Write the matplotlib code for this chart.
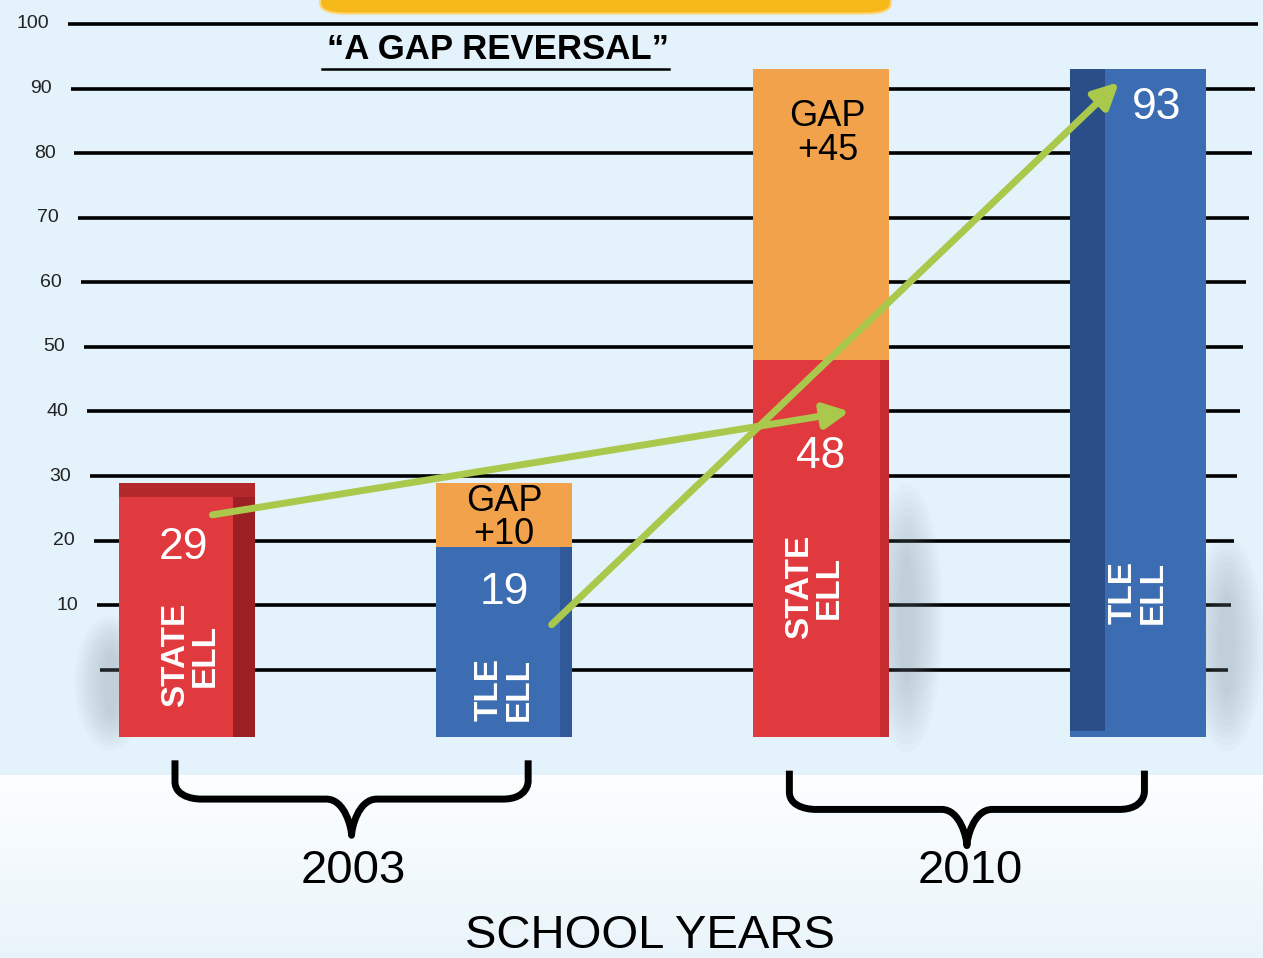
import matplotlib
matplotlib.use('Agg')
import matplotlib.pyplot as plt
from matplotlib.path import Path
from matplotlib.patches import PathPatch, FancyBboxPatch, Ellipse
import numpy as np

plt.rcParams['font.family'] = ['Liberation Sans', 'DejaVu Sans']

# data
groups = ['2003', '2010']
state_ell = [29, 48]
tle_ell = [19, 93]
gap_vals = [10, 45]          # gap between the two groups in each year
grid_vals = list(range(0, 101, 10))

# bar order: state 2003, tle 2003, state 2010, tle 2010
xpos = np.array([0, 1, 2, 3])
base = -10.4
red, red_dark = '#e03a3e', '#9c2023'
blue, blue_dark = '#3c6db2', '#2a4f88'
orange = '#f2a24b'
green = '#a9c84c'

fig = plt.figure(figsize=(12.63, 9.58), dpi=100)
ax = fig.add_axes([0, 0, 1, 1])
ax.set_xlim(-0.590, 3.394)
ax.set_ylim(-44.6, 103.7)
ax.axis('off')

# background
ax.add_patch(plt.Rectangle((-1, -16.4), 5, 130, color='#e3f2fb', zorder=0))
grad = np.linspace(0, 1, 100).reshape(-1, 1)
ax.imshow(grad, extent=(-1, 4, -44.6, -16.4), aspect='auto', origin='upper',
          cmap=matplotlib.colors.LinearSegmentedColormap.from_list('bg', ['#fcfeff', '#e9f4fa']),
          zorder=0)

# yellow box at top (clipped)
ax.add_patch(FancyBboxPatch((0.42, 101.6), 1.80, 8, boxstyle='round,pad=0,rounding_size=0.08',
                            mutation_aspect=20, fc='#f7b919', ec='#fbd77a', lw=1.5, zorder=1))

# grid lines with a slight perspective
for v in grid_vals:
    left = (100 - 0.32 * v - 187) / 317
    right = (1228 + 0.30 * v - 187) / 317
    ax.hlines(v, left, right, color='black', lw=2.6, zorder=2)
    if v > 0:
        ax.text(left - 0.06, v, str(v), ha='right', va='center', fontsize=14, color='#222222')

# soft shadows next to bars
for (cx, cy, h) in [(-0.24, -2, 20), (2.27, 8, 40), (3.28, 4, 32)]:
    for k in range(10):
        ax.add_patch(Ellipse((cx, cy), 0.05 + 0.02 * k, h * (0.5 + 0.06 * k),
                             color='#7d8c97', alpha=0.035, lw=0, zorder=2.5))

w = 0.43
state_x = xpos[[0, 2]]
tle_x = xpos[[1, 3]]

# bars
ax.bar(state_x, np.array(state_ell) - base, bottom=base, width=w, color=red, zorder=3)
ax.bar(tle_x, np.array(tle_ell) - base, bottom=base, width=w, color=blue, zorder=3)
ax.bar(xpos[1], gap_vals[0], bottom=tle_ell[0], width=w, color=orange, zorder=3)
ax.bar(xpos[2], gap_vals[1], bottom=state_ell[1], width=w, color=orange, zorder=3)

# darker side / top faces
ax.bar(state_x[0] + 0.18, state_ell[0] - base, bottom=base, width=0.07, color=red_dark, zorder=3.1)
ax.bar(state_x[0], 2.3, bottom=state_ell[0] - 2.3, width=w, color='#b3282b', zorder=3.1)
ax.bar(tle_x[1] - 0.16, tle_ell[1] - base - 1, bottom=base + 1, width=0.11, color=blue_dark, zorder=3.1)
ax.bar(tle_x[0] + 0.195, tle_ell[0] - base, bottom=base, width=0.04, color='#30599a', zorder=3.1)
ax.bar(xpos[2] + 0.2, state_ell[1] - base, bottom=base, width=0.03, color='#c42c30', zorder=3.1)

# labels inside bars
num_kw = dict(color='white', fontsize=32, ha='center', va='center', zorder=5)
lab_kw = dict(color='white', fontsize=24, fontweight='bold', ha='center', va='center',
              rotation=90, linespacing=0.95, multialignment='center', zorder=5)
gap_kw = dict(color='black', fontsize=26, ha='center', va='center', linespacing=0.95, zorder=5)

ax.text(state_x[0] - 0.01, state_ell[0] - 10, str(state_ell[0]), **num_kw)
ax.text(state_x[0] + 0.01, 2.3, 'STATE\nELL', **lab_kw)
ax.text(tle_x[0], tle_ell[0] - 7, str(tle_ell[0]), **num_kw)
ax.text(tle_x[0], -3.1, 'TLE\nELL', **lab_kw)
ax.text(xpos[1], tle_ell[0] + gap_vals[0] - 5.5, f'GAP\n+{gap_vals[0]}', **gap_kw)

ax.text(state_x[1], state_ell[1] - 15, str(state_ell[1]), **num_kw)
ax.text(state_x[1] - 0.02, 12.8, 'STATE\nELL', **lab_kw)
ax.text(xpos[2] + 0.02, state_ell[1] + gap_vals[1] - 10, f'GAP\n+{gap_vals[1]}', **gap_kw)
ax.text(tle_x[1] + 0.06, tle_ell[1] - 6, str(tle_ell[1]), **num_kw)
ax.text(tle_x[1], 12, 'TLE\nELL', **lab_kw)

# green arrows
arrow_kw = dict(arrowstyle='-|>,head_length=1.5,head_width=0.75', color=green, lw=5,
                shrinkA=0, shrinkB=0)
ax.annotate('', xy=(2.09, state_ell[1] - 8), xytext=(0.08, state_ell[0] - 5),
            arrowprops=arrow_kw, zorder=6)
ax.annotate('', xy=(2.94, tle_ell[1] - 2), xytext=(1.15, tle_ell[0] - 12),
            arrowprops=arrow_kw, zorder=6)

# title
ax.text(0.98, 96, '\u201cA GAP REVERSAL\u201d', ha='center', va='center', fontsize=25,
        fontweight='bold')
ax.plot([0.425, 1.52], [93.0, 93.0], color='black', lw=1.8)


def brace(x0, x1, ytop, ymid, ytip):
    xm = (x0 + x1) / 2
    rx, ry = 0.08, (ytop - ymid) * 0.45
    verts = [(x0, ytop), (x0, ymid + ry),
             (x0, ymid), (x0 + rx, ymid), (x0 + rx, ymid),
             (xm - rx, ymid),
             (xm - 0.02, ymid), (xm, ytip + 1), (xm, ytip),
             (xm, ytip + 1), (xm + 0.02, ymid), (xm + rx, ymid),
             (x1 - rx, ymid),
             (x1, ymid), (x1, ymid + ry), (x1, ymid + ry),
             (x1, ytop)]
    codes = [Path.MOVETO, Path.LINETO,
             Path.CURVE4, Path.CURVE4, Path.CURVE4,
             Path.LINETO,
             Path.CURVE4, Path.CURVE4, Path.CURVE4,
             Path.CURVE4, Path.CURVE4, Path.CURVE4,
             Path.LINETO,
             Path.CURVE4, Path.CURVE4, Path.CURVE4,
             Path.LINETO]
    ax.add_patch(PathPatch(Path(verts, codes), fill=False, lw=5, color='black',
                           capstyle='butt', joinstyle='round', zorder=4))


brace(-0.038, 1.076, -14.0, -20.0, -25.6)
brace(1.90, 3.02, -15.6, -21.6, -27.2)

year_kw = dict(ha='center', va='center', fontsize=34)
ax.text(0.524, -31.2, groups[0], **year_kw)
ax.text(2.47, -31.2, groups[1], **year_kw)
ax.text(1.46, -41.2, 'SCHOOL YEARS', **year_kw)

fig.savefig('out.png', dpi=100)
